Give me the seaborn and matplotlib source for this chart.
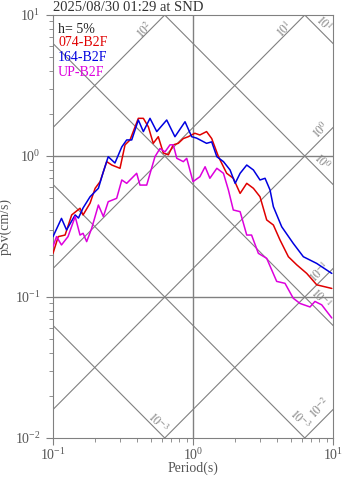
import numpy as np
import pandas as pd
import matplotlib
matplotlib.use('Agg')
import matplotlib.pyplot as plt
import seaborn as sns

# Response spectra (h = 5%), period in s, pSv in cm/s
period_074 = [0.100, 0.109, 0.122, 0.136, 0.156, 0.164, 0.184, 0.200, 0.217, 0.242,
              0.263, 0.301, 0.327, 0.355, 0.407, 0.442, 0.480, 0.520, 0.565, 0.614,
              0.667, 0.723, 0.785, 0.853, 0.925, 1.03, 1.12, 1.25, 1.36, 1.52,
              1.74, 1.94, 2.17, 2.42, 2.70, 3.01, 3.36, 3.75, 4.18, 4.80,
              5.51, 6.49, 7.65, 9.80]
psv_074 = [0.204, 0.268, 0.275, 0.382, 0.426, 0.382, 0.463, 0.590, 0.658, 0.912,
           0.863, 0.818, 1.20, 1.30, 1.85, 1.85, 1.61, 1.23, 1.37, 1.05,
           1.02, 1.20, 1.23, 1.33, 1.37, 1.45, 1.41, 1.49, 1.33, 0.989,
           0.754, 0.695, 0.543, 0.640, 0.590, 0.514, 0.352, 0.324, 0.254, 0.193,
           0.169, 0.147, 0.122, 0.115]

period_164 = [0.100, 0.115, 0.125, 0.144, 0.152, 0.164, 0.184, 0.211, 0.229, 0.248,
              0.277, 0.310, 0.336, 0.365, 0.407, 0.442, 0.493, 0.551, 0.649, 0.743,
              0.877, 0.979, 1.06, 1.25, 1.36, 1.48, 1.65, 1.84, 2.00, 2.17,
              2.42, 2.70, 3.01, 3.27, 3.55, 3.75, 4.30, 5.20, 6.14, 7.65, 9.80]
psv_164 = [0.268, 0.361, 0.299, 0.382, 0.363, 0.428, 0.514, 0.590, 0.774, 0.989,
           0.892, 1.16, 1.30, 1.30, 1.80, 1.49, 1.85, 1.49, 1.80, 1.37,
           1.75, 1.37, 1.34, 1.23, 1.26, 0.989, 0.912, 0.796, 0.640, 0.754,
           0.863, 0.796, 0.676, 0.695, 0.574, 0.437, 0.315, 0.240, 0.193, 0.173, 0.147]

period_up = [0.100, 0.106, 0.115, 0.128, 0.144, 0.156, 0.164, 0.174, 0.189, 0.211,
             0.229, 0.248, 0.285, 0.310, 0.336, 0.365, 0.396, 0.418, 0.467, 0.535,
             0.581, 0.631, 0.685, 0.723, 0.766, 0.853, 0.902, 1.00, 1.12, 1.22,
             1.32, 1.48, 1.65, 1.79, 1.94, 2.17, 2.42, 2.62, 2.93, 3.36,
             3.96, 4.54, 5.20, 5.81, 6.85, 7.43, 8.30, 9.80]
psv_up = [0.228, 0.268, 0.234, 0.268, 0.372, 0.275, 0.283, 0.247, 0.307, 0.449,
          0.372, 0.474, 0.501, 0.676, 0.640, 0.695, 0.754, 0.622, 0.622, 0.989,
          1.13, 1.07, 1.20, 1.20, 0.963, 0.912, 0.963, 0.658, 0.713, 0.839,
          0.695, 0.818, 0.754, 0.574, 0.414, 0.403, 0.275, 0.275, 0.204, 0.188,
          0.129, 0.125, 0.098, 0.090, 0.085, 0.093, 0.088, 0.071]

series_names = ['074-B2F', '164-B2F', 'UP-B2F']
series_colors = ['#e00000', '#0000e0', '#dd00dd']

# tripartite guide lines: acceleration (gal) and displacement (cm) decades
acc_levels = [1e-2, 1e-1, 1e0, 1e1, 1e2]
disp_levels = [1e-3, 1e-2, 1e-1, 1e0, 1e1]

# guide labels: (text, period, pSv, rotation)
guide_labels = [
    ('$10^{2}$', 0.454, 7.83, 45),
    ('$10^{1}$', 4.54, 7.83, 45),
    ('$10^{1}$', 8.48, 8.63, -45),
    ('$10^{0}$', 8.2, 1.53, 45),
    ('$10^{0}$', 8.34, 0.906, -45),
    ('$10^{-1}$', 8.07, 0.150, 45),
    ('$10^{-1}$', 8.07, 0.098, -45),
    ('$10^{-3}$', 0.562, 0.0128, -45),
    ('$10^{-3}$', 5.81, 0.0134, -45),
    ('$10^{-2}$', 8.07, 0.0163, 45),
]

sns.set_style('ticks')
plt.rcParams['font.family'] = ['Liberation Serif', 'DejaVu Serif']
plt.rcParams['mathtext.fontset'] = 'stix'

gray = '#808080'
txt = '#555555'

df = pd.concat([
    pd.DataFrame({'Period': p, 'pSv': v, 'Comp': n})
    for p, v, n in zip([period_074, period_164, period_up],
                       [psv_074, psv_164, psv_up], series_names)
])

fig = plt.figure(figsize=(3.47, 4.78), dpi=100)
ax = fig.add_axes([0.1527, 0.0837, 0.8070, 0.8849])
ax.set_xscale('log')
ax.set_yscale('log')
ax.set_xlim(0.1, 10)
ax.set_ylim(0.01, 10)

# guide lines
t = np.array([0.01, 100.0])
for a in acc_levels:
    ax.plot(t, a * t / (2 * np.pi), color=gray, lw=0.8, zorder=1)
for d in disp_levels:
    ax.plot(t, 2 * np.pi * d / t, color=gray, lw=0.8, zorder=1)
ax.axvline(1, color=gray, lw=1.0, zorder=1)
ax.axhline(1, color=gray, lw=1.0, zorder=1)
ax.axhline(0.1, color=gray, lw=1.0, zorder=1)

for s, x, y, r in guide_labels:
    ax.text(x, y, s, rotation=r, color=gray, fontsize=8.5,
            ha='center', va='center', rotation_mode='anchor', zorder=2)

sns.lineplot(data=df, x='Period', y='pSv', hue='Comp', palette=series_colors,
             hue_order=series_names, sort=False, estimator=None, lw=1.1,
             legend=False, ax=ax, zorder=3)

ax.text(0.018, 0.965, 'h= 5%', transform=ax.transAxes, color='#222222',
        fontsize=10, va='center')
for i, (n, c) in enumerate(zip(series_names, series_colors)):
    ax.text(0.018, 0.934 - i * 0.035, n, transform=ax.transAxes, color=c,
            fontsize=10, va='center')

for sp in ax.spines.values():
    sp.set_color(gray)
    sp.set_visible(True)
ax.tick_params(axis='both', which='both', direction='out', colors=gray,
               labelcolor=txt, labelsize=10)
ax.tick_params(which='major', length=5)
ax.tick_params(axis='y', which='major', pad=4)
ax.tick_params(axis='x', which='major', pad=1.5)
ax.tick_params(which='minor', length=3)

ax.set_xlabel('Period(s)', color=txt, fontsize=10, labelpad=-1)
ax.set_ylabel('pSv(cm/s)', color=txt, fontsize=10, labelpad=2)
ax.set_title('2025/08/30 01:29 at SND', loc='left', color='#333333',
             fontsize=10.5, pad=3)

plt.savefig('out.png', dpi=100)
